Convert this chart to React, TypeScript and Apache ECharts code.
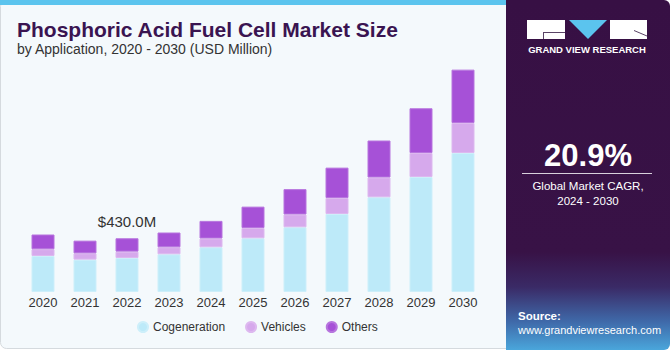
import React, { useEffect, useRef } from "react";
import * as echarts from "echarts";

const years = ["2020", "2021", "2022", "2023", "2024", "2025", "2026", "2027", "2028", "2029", "2030"];
const cogeneration = [288, 259, 272, 302, 358, 430, 518, 624, 758, 920, 1112];
const vehicles = [54, 50, 51, 56, 70, 82, 102, 128, 158, 192, 240];
const others = [118, 102, 107, 118, 141, 171, 203, 243, 296, 358, 427];
const labelIndex = 2;
const cagr = "20.9%";

const FONT = "'Liberation Sans', Arial, sans-serif";

export default function App() {
  const ref = useRef<HTMLDivElement>(null);
  useEffect(() => {
    if (!ref.current) return;
    const chart = echarts.init(ref.current, undefined, { renderer: "svg" });
    const total = cogeneration[labelIndex] + vehicles[labelIndex] + others[labelIndex];
    const othersData = others.map((v, i) =>
      i === labelIndex
        ? {
            value: v,
            label: {
              show: true,
              position: "top",
              distance: 9,
              formatter: `$${total.toFixed(1)}M`,
              fontSize: 15,
              color: "#333333",
              fontFamily: FONT,
            },
          }
        : v
    );
    chart.setOption({
      animation: false,
      backgroundColor: "#ffffff",
      textStyle: { fontFamily: FONT },
      grid: { left: 22, width: 462, top: 42, bottom: 58 },
      xAxis: {
        type: "category",
        data: years,
        axisLine: { show: false },
        axisTick: { show: false },
        axisLabel: { color: "#333333", fontSize: 13, margin: 4, fontFamily: FONT },
      },
      yAxis: { type: "value", min: 0, max: 2000, show: false, splitLine: { show: false } },
      legend: {
        left: 132,
        top: 316,
        icon: "circle",
        itemWidth: 10,
        itemHeight: 10,
        itemGap: 20,
        textStyle: { fontSize: 12, color: "#333333", fontFamily: FONT },
        data: ["Cogeneration", "Vehicles", "Others"],
      },
      series: [
        {
          name: "Cogeneration",
          type: "bar",
          stack: "t",
          barWidth: 23,
          data: cogeneration,
          itemStyle: { color: "#BDEAF9", borderColor: "#CDEFFA", borderWidth: 1 },
        },
        {
          name: "Vehicles",
          type: "bar",
          stack: "t",
          barWidth: 23,
          data: vehicles,
          itemStyle: { color: "#D6A9EC", borderColor: "#DDB8EF", borderWidth: 1 },
        },
        {
          name: "Others",
          type: "bar",
          stack: "t",
          barWidth: 23,
          data: othersData,
          itemStyle: { color: "#A651D7", borderColor: "#B775DE", borderWidth: 1 },
        },
      ],
      graphic: [
        {
          type: "rect",
          z: -10,
          shape: { x: 0.5, y: 0.5, width: 520, height: 348, r: 6 },
          style: { fill: "#F4F9FC", stroke: "#D5DADE", lineWidth: 1 },
          silent: true,
        },
        {
          type: "rect",
          z: -9,
          shape: { x: 0, y: 0, width: 506, height: 5 },
          style: { fill: "#5BC4EE" },
          silent: true,
        },
        {
          type: "rect",
          z: -8,
          shape: { x: 506, y: 0, width: 164, height: 350, r: [0, 6, 6, 0] },
          style: {
            fill: new echarts.graphic.LinearGradient(0, 0, 0, 1, [
              { offset: 0, color: "#371044" },
              { offset: 0.72, color: "#381246" },
              { offset: 0.82, color: "#3A2A66" },
              { offset: 0.92, color: "#3F6AAA" },
              { offset: 1, color: "#4AA6DB" },
            ]),
          },
          silent: true,
        },
        { type: "rect", shape: { x: 527, y: 20, width: 38, height: 19 }, style: { fill: "#ffffff" } },
        { type: "line", shape: { x1: 543, y1: 32.5, x2: 565, y2: 32.5 }, style: { stroke: "#5a4466", lineWidth: 1 } },
        { type: "line", shape: { x1: 543.5, y1: 32, x2: 543.5, y2: 39 }, style: { stroke: "#5a4466", lineWidth: 1 } },
        { type: "polygon", shape: { points: [[569, 20], [607, 20], [588, 39]] }, style: { fill: "#5BC4EE" } },
        { type: "rect", shape: { x: 610, y: 20, width: 37, height: 19 }, style: { fill: "#ffffff" } },
        { type: "line", shape: { x1: 634, y1: 30.5, x2: 647, y2: 36 }, style: { stroke: "#5a4466", lineWidth: 1 } },
        {
          type: "text",
          style: {
            x: 587, y: 49, text: "GRAND VIEW RESEARCH", fill: "#ffffff", font: `bold 9.5px ${FONT}`,
            align: "center", verticalAlign: "middle",
          },
        },
        {
          type: "text",
          style: {
            x: 17, y: 29, text: "Phosphoric Acid Fuel Cell Market Size", fill: "#3A1451",
            font: `bold 21px ${FONT}`, align: "left", verticalAlign: "middle",
          },
        },
        {
          type: "text",
          style: {
            x: 17, y: 48.5, text: "by Application, 2020 - 2030 (USD Million)", fill: "#333333",
            font: `14px ${FONT}`, align: "left", verticalAlign: "middle",
          },
        },
        {
          type: "text",
          style: {
            x: 588, y: 155, text: cagr, fill: "#ffffff", font: `bold 31px ${FONT}`,
            align: "center", verticalAlign: "middle",
          },
        },
        { type: "line", shape: { x1: 522, y1: 173.5, x2: 652, y2: 173.5 }, style: { stroke: "#d8d0dc", lineWidth: 1 } },
        {
          type: "text",
          style: {
            x: 588, y: 186, text: "Global Market CAGR,", fill: "#ffffff", font: `11.5px ${FONT}`,
            align: "center", verticalAlign: "middle",
          },
        },
        {
          type: "text",
          style: {
            x: 588, y: 201, text: "2024 - 2030", fill: "#ffffff", font: `11.5px ${FONT}`,
            align: "center", verticalAlign: "middle",
          },
        },
        {
          type: "text",
          style: {
            x: 518, y: 316, text: "Source:", fill: "#ffffff", font: `bold 11.5px ${FONT}`,
            align: "left", verticalAlign: "middle",
          },
        },
        {
          type: "text",
          style: {
            x: 518, y: 330, text: "www.grandviewresearch.com", fill: "#ffffff", font: `11px ${FONT}`,
            align: "left", verticalAlign: "middle",
          },
        },
      ],
    });
    return () => chart.dispose();
  }, []);
  return (
    <div
      ref={ref}
      style={{ position: "fixed", left: 0, top: 0, width: 670, height: 350 }}
    />
  );
}
